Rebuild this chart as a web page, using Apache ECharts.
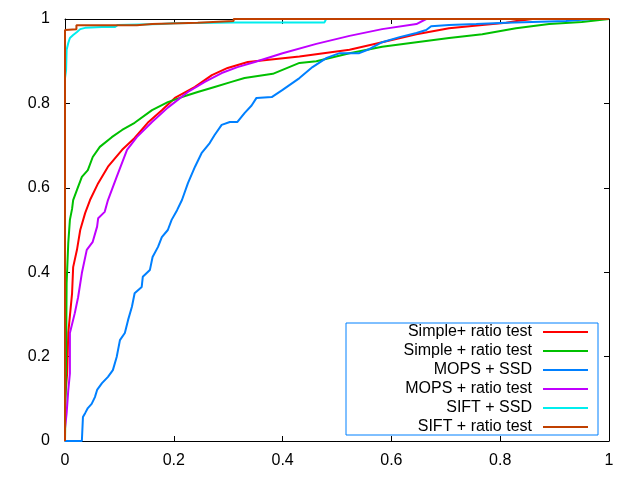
<!DOCTYPE html>
<html>
<head>
<meta charset="utf-8">
<script src="https://cdn.jsdelivr.net/npm/echarts@6/dist/echarts.min.js"></script>
<style>
  html, body { margin: 0; padding: 0; background: #fff; }
  #chart { width: 640px; height: 480px; }
</style>
</head>
<body>
<div id="chart"></div>
<script>
// series names, in legend order
const names = ['Simple+ ratio test', 'Simple + ratio test', 'MOPS + SSD', 'MOPS + ratio test', 'SIFT + SSD', 'SIFT + ratio test']
const colors = ['#ff0000', '#00c000', '#0080ff', '#c000ff', '#00eeee', '#c04000']
const tickValues = [0, 0.2, 0.4, 0.6, 0.8, 1]

// [false positive rate, true positive rate]
const simplePlusRatio = [
  [0, 0], [0, 0.10], [0.002, 0.13], [0.004, 0.161], [0.006, 0.256], [0.013, 0.35], [0.015, 0.412],
  [0.022, 0.453], [0.028, 0.5], [0.037, 0.54], [0.046, 0.571], [0.061, 0.611], [0.079, 0.65],
  [0.105, 0.69], [0.128, 0.718], [0.152, 0.754], [0.178, 0.784], [0.202, 0.813], [0.239, 0.839],
  [0.27, 0.867], [0.299, 0.884], [0.336, 0.898], [0.431, 0.911], [0.523, 0.927], [0.583, 0.945],
  [0.646, 0.964], [0.706, 0.978], [0.767, 0.986], [0.811, 0.991], [0.83, 0.995], [0.86, 1], [1, 1]
]
const simpleRatio = [
  [0, 0], [0.002, 0.2], [0.003, 0.374], [0.006, 0.469], [0.009, 0.524], [0.013, 0.55], [0.015, 0.571],
  [0.022, 0.595], [0.031, 0.626], [0.042, 0.642], [0.051, 0.673], [0.064, 0.697], [0.086, 0.72],
  [0.105, 0.737], [0.128, 0.754], [0.16, 0.784], [0.189, 0.803], [0.215, 0.815], [0.244, 0.827],
  [0.275, 0.839], [0.306, 0.851], [0.33, 0.86], [0.382, 0.87], [0.431, 0.896], [0.462, 0.9],
  [0.523, 0.919], [0.583, 0.934], [0.646, 0.945], [0.706, 0.955], [0.767, 0.964], [0.829, 0.978],
  [0.89, 0.988], [0.95, 0.993], [0.987, 0.998], [1, 1]
]
const mopsSsd = [
  [0, 0], [0.031, 0], [0.033, 0.057], [0.037, 0.066], [0.042, 0.078], [0.049, 0.088], [0.055, 0.104],
  [0.059, 0.121], [0.068, 0.137], [0.079, 0.152], [0.088, 0.168], [0.095, 0.199], [0.101, 0.239],
  [0.11, 0.256], [0.116, 0.287], [0.123, 0.318], [0.128, 0.35], [0.141, 0.365], [0.143, 0.389],
  [0.156, 0.405], [0.161, 0.436], [0.171, 0.46], [0.178, 0.483], [0.189, 0.5], [0.196, 0.524],
  [0.206, 0.547], [0.215, 0.571], [0.226, 0.611], [0.239, 0.65], [0.251, 0.682], [0.266, 0.706],
  [0.275, 0.725], [0.288, 0.749], [0.303, 0.756], [0.317, 0.756], [0.33, 0.777], [0.343, 0.795],
  [0.352, 0.813], [0.38, 0.815], [0.4, 0.832], [0.431, 0.86], [0.455, 0.886], [0.481, 0.908],
  [0.505, 0.919], [0.541, 0.919], [0.56, 0.929], [0.583, 0.945], [0.615, 0.957], [0.646, 0.967],
  [0.664, 0.974], [0.673, 0.983], [0.706, 0.986], [0.756, 0.988], [0.811, 0.991], [0.859, 0.993],
  [0.921, 0.995], [0.95, 0.998], [0.97, 1], [1, 1]
]
const mopsRatio = [
  [0, 0], [0, 0.03], [0.003, 0.066], [0.006, 0.12], [0.009, 0.16], [0.009, 0.256], [0.018, 0.303],
  [0.024, 0.34], [0.031, 0.398], [0.04, 0.453], [0.051, 0.472], [0.059, 0.508], [0.061, 0.528],
  [0.073, 0.543], [0.079, 0.571], [0.095, 0.626], [0.114, 0.69], [0.132, 0.72], [0.16, 0.756],
  [0.189, 0.79], [0.226, 0.827], [0.257, 0.851], [0.288, 0.872], [0.317, 0.886], [0.349, 0.898],
  [0.4, 0.919], [0.462, 0.941], [0.523, 0.96], [0.583, 0.976], [0.646, 0.988], [0.664, 1], [1, 1]
]
const siftSsd = [
  [0, 0], [0, 0.86], [0.002, 0.879], [0.003, 0.927], [0.006, 0.943], [0.009, 0.955], [0.015, 0.962],
  [0.022, 0.969], [0.028, 0.976], [0.037, 0.979], [0.068, 0.981], [0.092, 0.981], [0.097, 0.986],
  [0.178, 0.988], [0.2, 0.99], [0.31, 0.992], [0.477, 0.992], [0.48, 1], [1, 1]
]
const siftRatio = [
  [0, 0], [0, 0.974], [0.003, 0.976], [0.021, 0.976], [0.021, 0.985], [0.132, 0.985], [0.132, 0.988],
  [0.16, 0.988], [0.16, 0.991], [0.244, 0.991], [0.244, 0.993], [0.31, 0.995], [0.31, 1], [1, 1]
]
const curves = [simplePlusRatio, simpleRatio, mopsSsd, mopsRatio, siftSsd, siftRatio]

const chart = echarts.init(document.getElementById('chart'))
const font = 'Liberation Sans, Arial, sans-serif'

// 刻度在内侧，四边都有
function makeAxis (pos, showLabel) {
  return {
    type: 'value',
    position: pos,
    min: 0,
    max: 1,
    interval: 0.2,
    splitLine: { show: false },
    axisLine: { show: true, onZero: false, lineStyle: { color: '#000', width: 1 } },
    axisTick: { show: true, inside: true, length: 5, lineStyle: { color: '#000' } },
    axisLabel: {
      show: showLabel,
      margin: pos === 'bottom' ? 12 : 15,
      color: '#000',
      fontFamily: font,
      fontSize: 16,
      formatter: v => String(tickValues.find(t => Math.abs(t - v) < 1e-9) ?? v)
    }
  }
}

const option = {
  animation: false,
  backgroundColor: '#fff',
  grid: { left: 65, right: 31, top: 19, bottom: 39 },
  xAxis: [makeAxis('bottom', true), makeAxis('top', false)],
  yAxis: [makeAxis('left', true), makeAxis('right', false)],
  legend: {
    orient: 'vertical',
    left: 346,
    top: 323,
    align: 'right',
    padding: [1, 10, 0, 5],
    itemGap: 3,
    itemWidth: 45,
    itemHeight: 2,
    icon: 'rect',
    borderColor: '#0080ff',
    borderWidth: 1,
    data: names,
    formatter: n => '{t|' + n + '}',
    textStyle: {
      color: '#000',
      fontFamily: font,
      fontSize: 16,
      // 右侧留出文字与图例线之间的空隙
      rich: { t: { width: 181, align: 'right', padding: [0, 6, 0, 0], lineHeight: 17, fontSize: 16, fontFamily: font } }
    }
  },
  series: curves.map((d, i) => ({
    name: names[i],
    type: 'line',
    data: d,
    symbol: 'none',
    clip: true,
    color: colors[i],
    lineStyle: { color: colors[i], width: 2 }
  }))
}
chart.setOption(option)
</script>
</body>
</html>
